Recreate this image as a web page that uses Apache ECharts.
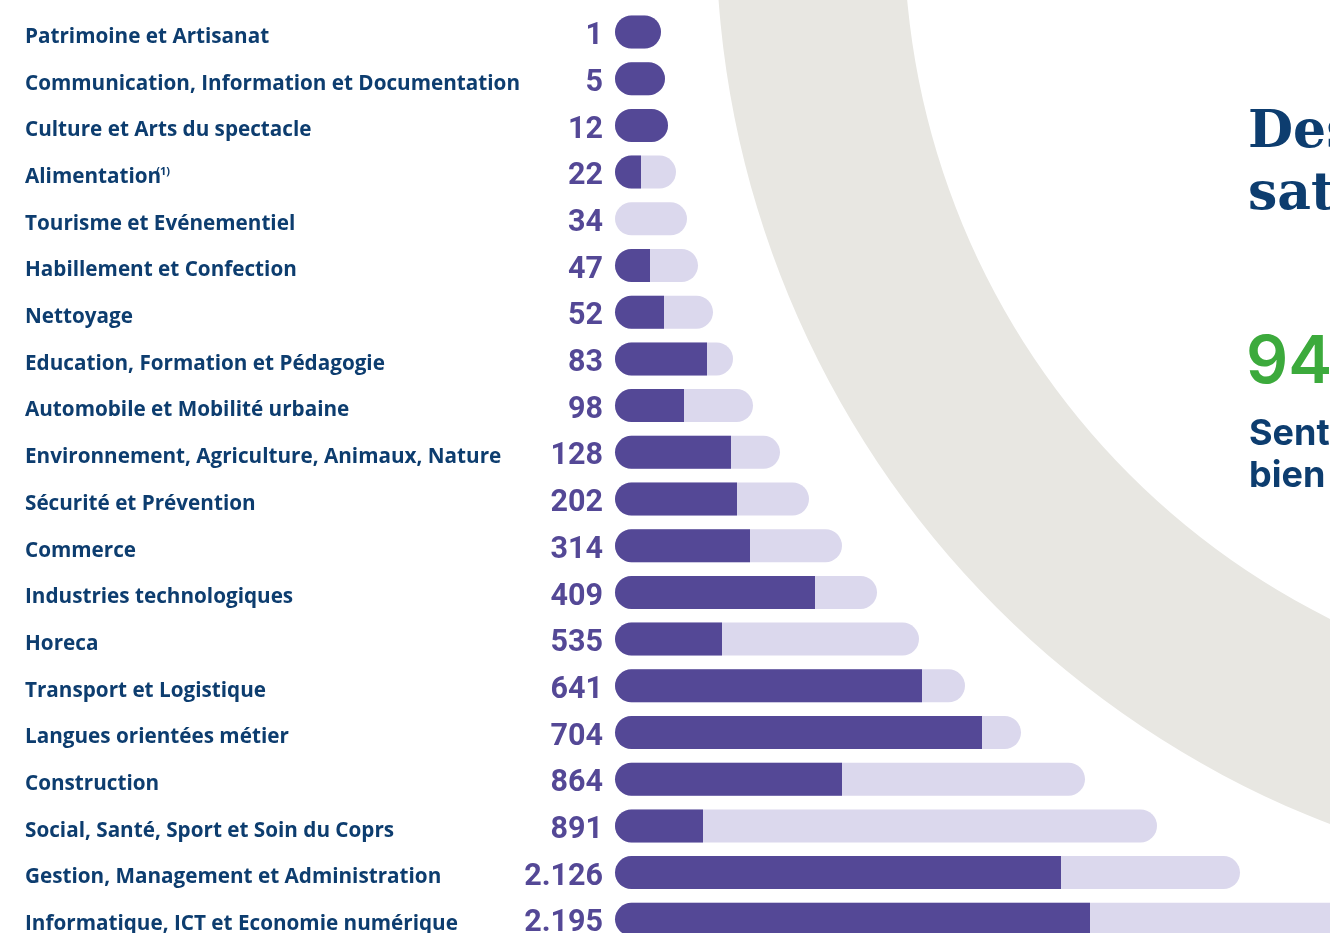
<!DOCTYPE html>
<html lang="fr">
<head>
    <meta charset="UTF-8">
    <title>Formations par secteur</title>
    <script src="https://cdn.jsdelivr.net/npm/echarts@6.0.0/dist/echarts.min.js"></script>
    <style>
        html, body {
            margin: 0;
            border: 0;
            background: #ffffff;
        }

        #chart {
            width: 1330px;
            height: 933px;
        }
    </style>
</head>
<body>
<div id="chart"></div>
<script type="text/javascript">
    // secteurs, du plus petit au plus grand
    const categories = [
        'Patrimoine et Artisanat',
        'Communication, Information et Documentation',
        'Culture et Arts du spectacle',
        'Alimentation(1)',
        'Tourisme et Evénementiel',
        'Habillement et Confection',
        'Nettoyage',
        'Education, Formation et Pédagogie',
        'Automobile et Mobilité urbaine',
        'Environnement, Agriculture, Animaux, Nature',
        'Sécurité et Prévention',
        'Commerce',
        'Industries technologiques',
        'Horeca',
        'Transport et Logistique',
        'Langues orientées métier',
        'Construction',
        'Social, Santé, Sport et Soin du Coprs',
        'Gestion, Management et Administration',
        'Informatique, ICT et Economie numérique'
    ];

    const counts = ['1', '5', '12', '22', '34', '47', '52', '83', '98', '128',
        '202', '314', '409', '535', '641', '704', '864', '891', '2.126', '2.195'];

    // longueur totale de la barre (partie claire)
    const totalLength = [46, 50, 53, 61, 72, 83, 98, 118, 138, 165,
        194, 227, 262, 304, 350, 406, 470, 542, 625, 760];

    // partie foncée
    const darkLength = [46, 50, 53, 26, 0, 35, 49, 92, 69, 116,
        122, 135, 200, 107, 307, 367, 227, 88, 446, 475];

    const navy = '#0d3d6f';
    const purple = '#544896';
    const lavender = '#dbd8ed';
    const stone = '#e8e7e2';

    window.onload = () => {
        const chart = echarts.init(document.querySelector('#chart'), null, {renderer: 'canvas'});

        const darkData = darkLength.map((v, i) => ({
            value: v,
            itemStyle: {
                borderRadius: v >= totalLength[i] ? 17 : [17, 0, 0, 17]
            }
        }));

        const option = {
            animation: false,
            backgroundColor: '#ffffff',
            graphic: [
                {
                    type: 'ring',
                    z: -10,
                    silent: true,
                    shape: {cx: 1674, cy: -70, r: 958, r0: 770},
                    style: {fill: stone}
                },
                {
                    type: 'text',
                    left: 1248,
                    top: 102,
                    style: {
                        text: 'Des\nsat',
                        font: 'bold 52px "DejaVu Serif"',
                        lineHeight: 62,
                        fill: navy
                    }
                },
                {
                    type: 'text',
                    left: 1246,
                    top: 330,
                    style: {
                        text: '94',
                        font: '600 66px Inter',
                        fill: '#3caa3c'
                    }
                },
                {
                    type: 'text',
                    left: 1249,
                    top: 413,
                    style: {
                        text: 'Sent\nbien',
                        font: 'bold 36px Inter',
                        lineHeight: 42,
                        fill: navy
                    }
                }
            ],
            grid: {
                left: 615,
                top: 8.65,
                width: 815,
                height: 934,
                outerBoundsMode: 'none'
            },
            xAxis: {
                type: 'value',
                min: 0,
                max: 815,
                show: false
            },
            yAxis: [
                {
                    type: 'category',
                    inverse: true,
                    data: categories,
                    axisLine: {show: false},
                    axisTick: {show: false},
                    axisLabel: {
                        margin: 590,
                        align: 'left',
                        color: navy,
                        fontFamily: 'Open Sans',
                        fontWeight: 700,
                        fontSize: 20.7,
                        padding: [10, 0, 0, 0],
                        formatter: (v) => v.replace('(1)', '{sup|(1)}'),
                        rich: {
                            sup: {
                                fontFamily: 'Open Sans',
                                fontSize: 11,
                                fontWeight: 700,
                                color: navy,
                                verticalAlign: 'top',
                                padding: [0, 0, 10, -5]
                            }
                        }
                    }
                },
                {
                    type: 'category',
                    inverse: true,
                    position: 'left',
                    data: counts,
                    axisLine: {show: false},
                    axisTick: {show: false},
                    axisLabel: {
                        margin: 12,
                        formatter: (v) => '{n|' + v + '}',
                        rich: {
                            n: {
                                color: purple,
                                fontFamily: 'Roboto',
                                fontWeight: 700,
                                fontSize: 30.5,
                                padding: [9, 0, 0, 0]
                            }
                        }
                    }
                }
            ],
            series: [
                {
                    name: 'total',
                    type: 'bar',
                    data: totalLength,
                    barWidth: 33,
                    barGap: '-100%',
                    itemStyle: {color: lavender, borderRadius: 17}
                },
                {
                    name: 'part',
                    type: 'bar',
                    data: darkData,
                    barWidth: 33,
                    itemStyle: {color: purple}
                }
            ]
        };
        chart.setOption(option, true);
    };
</script>
</body>
</html>
